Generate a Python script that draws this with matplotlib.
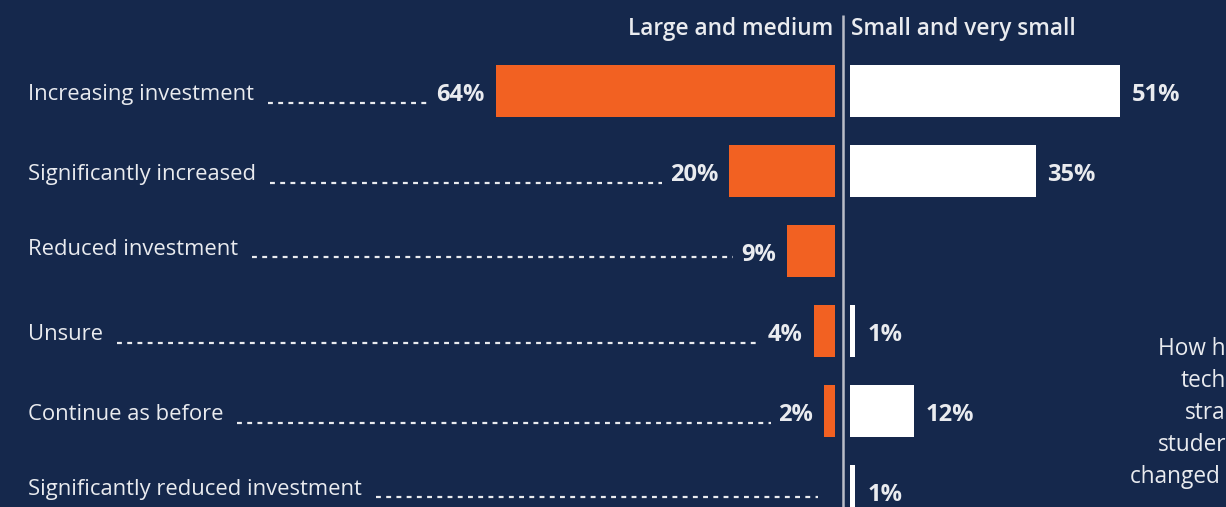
import matplotlib
matplotlib.use("Agg")
import matplotlib.pyplot as plt
from matplotlib.transforms import blended_transform_factory

categories = ["Increasing investment", "Significantly increased", "Reduced investment",
              "Unsure", "Continue as before", "Significantly reduced investment"]
large_medium = [64, 20, 9, 4, 2, 0]
small_vsmall = [51, 35, 0, 1, 12, 1]
headers = ["Large and medium", "Small and very small"]
side_note = ["How h", "tech", "stra", "studer", "changed "]

BG = "#15284c"
ORANGE = "#f26122"
WHITE = "#ffffff"
TXT = "#e9ebef"
FONT = "Open Sans"

W, H = 1226, 507
fig = plt.figure(figsize=(W / 100, H / 100), dpi=100, facecolor=BG)
ax = fig.add_axes([0, 0, 1, 1], facecolor=BG)
ax.set_axis_off()

s = 5.3          # px per percent
cx = 843         # divider pixel
ax.set_xlim(-cx / s, (W - cx) / s)
ax.set_ylim((H - 91) / 80, -91 / 80)

gl = 8 / s
gr = 7 / s
ys = list(range(len(categories)))
ax.barh(ys, [-v for v in large_medium], left=-gl, height=0.66, color=ORANGE)
ax.barh(ys, small_vsmall, left=gr, height=0.66, color=WHITE)

ax.plot([0, 0], [-0.95, 5.3], color="#b9bdc7", lw=1.8, solid_capstyle="butt")

ax.text(-10 / s, -0.78, headers[0], ha="right", va="center", color=TXT,
        fontsize=16.3, fontweight="semibold", family=FONT)
ax.text(8 / s, -0.78, headers[1], ha="left", va="center", color=TXT,
        fontsize=16.3, fontweight="semibold", family=FONT)

fig.canvas.draw()
r = fig.canvas.get_renderer()
inv = ax.transData.inverted()
tb = blended_transform_factory(fig.transFigure, ax.transData)

for i, (cat, lv, rv) in enumerate(zip(categories, large_medium, small_vsmall)):
    yoff = -0.02 if i in (2, 5) else 0.05
    t = ax.text(28 / W, i + yoff, cat, transform=tb, ha="left", va="center",
                color=TXT, fontsize=15.8, family=FONT)
    bb = t.get_window_extent(r)
    x0 = inv.transform((bb.x1 + 14, 0))[0]
    if lv > 0:
        xv = -gl - lv - 11 / s
        vt = ax.text(xv, i + 0.05, f"{lv}%", ha="right", va="center", color=TXT,
                     fontsize=17, fontweight="bold", family=FONT)
        vb = vt.get_window_extent(r)
        x1 = inv.transform((vb.x0 - 8, 0))[0]
    else:
        x1 = -gl - 17 / s
    ax.plot([x0, x1], [i + yoff + 0.1, i + yoff + 0.1], color=TXT, lw=1.6,
            linestyle=(0, (2.2, 2.4)))
    if rv > 0:
        ax.text(gr + rv + 12 / s, i + 0.05, f"{rv}%", ha="left", va="center", color=TXT,
                fontsize=17, fontweight="bold", family=FONT)

for k, line in enumerate(side_note):
    ax.text(1.0, 1 - (349 + 32 * k) / H, line, transform=fig.transFigure,
            ha="right", va="center", color=TXT, fontsize=16.3, family=FONT)

fig.savefig("out.png", dpi=100, facecolor=BG)
